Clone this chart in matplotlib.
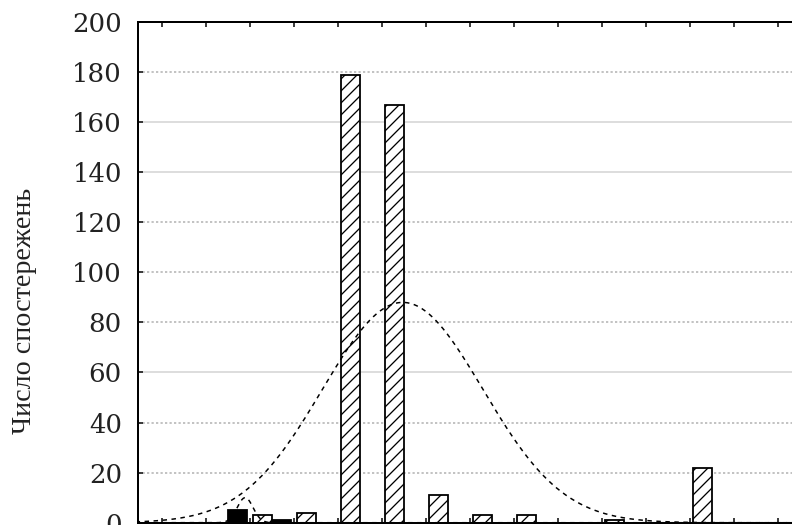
import numpy as np
import matplotlib
matplotlib.use("Agg")
import matplotlib.pyplot as plt

# bins (one unit per x tick) and counts
bins = np.arange(15)
hatched_counts = [0, 0, 3, 4, 179, 167, 11, 3, 3, 0, 1, 0, 22, 0, 0]
black_counts = [0, 5, 1, 0, 0, 0, 0, 0, 0, 0, 0, 0, 0, 0, 0]

# fitted normal curves (centre, sd, peak height)
big_fit = (5.47, 1.82, 88)
small_fit = (1.89, 0.18, 10)

y_ticks = list(range(0, 201, 20))
dotted_levels = [20, 40, 80, 100, 120, 180]
solid_levels = [60, 140, 160]
ylabel = "Число спостережень"

plt.rcParams["hatch.linewidth"] = 1.3

fig = plt.figure(figsize=(792 / 72, 525 / 72), dpi=72)
ax = fig.add_axes([138 / 792, 2.3 / 525, 706 / 792, 500.7 / 525])

# grid lines
for lv in dotted_levels:
    ax.axhline(lv, color="#b0b0b0", lw=1.5, ls=(0, (1.5, 1.5)), zorder=0)
for lv in solid_levels:
    ax.axhline(lv, color="#d2d2d2", lw=1.5, ls="-", zorder=0)

# bars
bw = 0.43
ax.bar(bins + 0.07, hatched_counts, width=bw, align="edge", facecolor="white",
       edgecolor="black", hatch="//", linewidth=1.8, zorder=2)
ax.bar(bins + 0.5, black_counts, width=bw, align="edge", facecolor="black",
       edgecolor="black", linewidth=1.8, zorder=2)

# normal curves
xs = np.linspace(-0.6, 15.5, 600)
for mu, sd, peak in [big_fit, small_fit]:
    ys = peak * np.exp(-(xs - mu) ** 2 / (2 * sd ** 2))
    ax.plot(xs, ys, color="black", lw=1.5, ls=(0, (3, 3)), zorder=3)

ax.set_xlim(-0.545, 15.5)
ax.set_ylim(0, 200)
ax.set_xticks(bins)
ax.set_yticks(y_ticks)
ax.tick_params(axis="x", direction="in", length=5, width=1.5, top=True,
               labelbottom=False)
ax.tick_params(axis="y", direction="in", length=5, width=1.5, pad=16,
               labelsize=26, labelcolor="#222222")
for lab in ax.get_yticklabels():
    lab.set_family("DejaVu Serif")
for sp in ax.spines.values():
    sp.set_linewidth(2)

fig.text(24.5 / 792, 1 - 311 / 525, ylabel, rotation=90, ha="center",
         va="center", family="Liberation Serif", fontsize=28, color="#222222")

fig.savefig("out.png", dpi=72)
